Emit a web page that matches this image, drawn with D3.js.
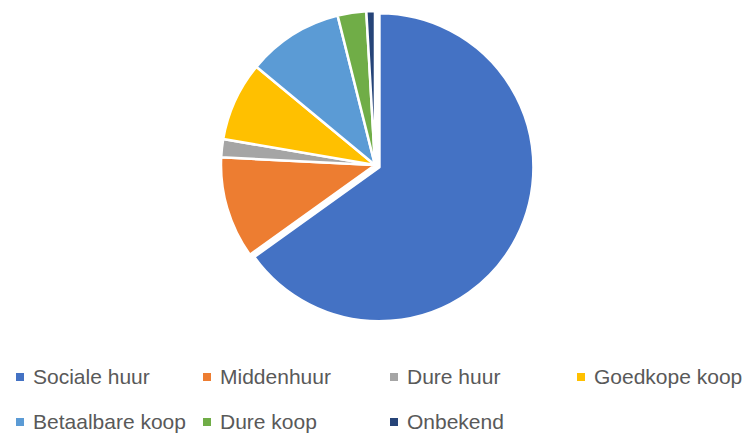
<!DOCTYPE html>
<html>
<head>
<meta charset="utf-8">
<script src="https://cdn.jsdelivr.net/npm/d3@7"></script>
<style>
  body { margin: 0; background: #fff; }
  svg { display: block; }
  .legend text { font-family: "Liberation Sans", Arial, sans-serif; font-size: 21px; fill: #595959; }
</style>
</head>
<body>
<div id="chart"></div>
<script>
// woningtypes, aandeel in procenten
const categories = ['Sociale huur', 'Middenhuur', 'Dure huur', 'Goedkope koop', 'Betaalbare koop', 'Dure koop', 'Onbekend'];
const values = [65.1, 10.7, 1.9, 8.3, 10.1, 3.0, 0.9];
const colors = ['#4472C4', '#ED7D31', '#A5A5A5', '#FFC000', '#5B9BD5', '#70AD47', '#264478'];

const width = 749, height = 433;
const cx = 375, cy = 165, radius = 154;
const explodeFirst = 5; // first slice sits slightly out of the pie

const svg = d3.select('#chart').append('svg')
  .attr('width', width)
  .attr('height', height);

const pie = d3.pie().sort(null).value(d => d)(values);
const arc = d3.arc().innerRadius(0).outerRadius(radius);

const g = svg.append('g').attr('transform', `translate(${cx},${cy})`);

g.selectAll('path')
  .data(pie)
  .join('path')
    .attr('d', arc)
    .attr('fill', (d, i) => colors[i])
    .attr('stroke', '#fff')
    .attr('stroke-width', 2.5)
    .attr('stroke-linejoin', 'round')
    .attr('transform', (d, i) => {
      if (i !== 0) return null;
      const a = (d.startAngle + d.endAngle) / 2;
      return `translate(${Math.sin(a) * explodeFirst},${-Math.cos(a) * explodeFirst})`;
    });

// legend: 4 columns, 2 rows
const colX = d3.scalePoint().domain([0, 1, 2, 3]).range([16, 577]);
const rowY = d3.scalePoint().domain([0, 1]).range([377, 422]);

const legend = svg.append('g').attr('class', 'legend');
const items = legend.selectAll('g')
  .data(categories)
  .join('g')
    .attr('transform', (d, i) => `translate(${colX(i % 4)},${rowY(Math.floor(i / 4))})`);

items.append('rect')
  .attr('x', 0).attr('y', -4)
  .attr('width', 8).attr('height', 8)
  .attr('fill', (d, i) => colors[i]);

items.append('text')
  .attr('x', 17)
  .attr('dy', '0.35em')
  .text(d => d);
</script>
</body>
</html>
